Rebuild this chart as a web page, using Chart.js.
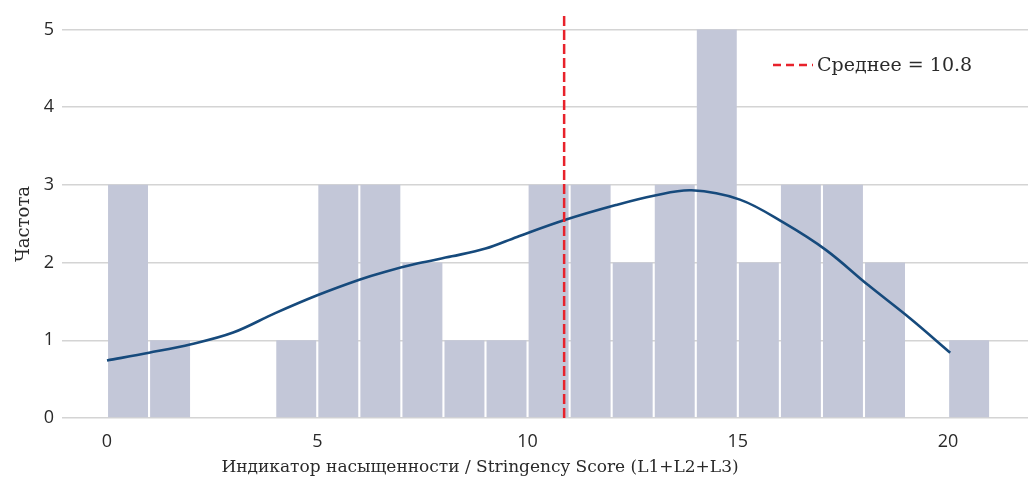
<!DOCTYPE html>
<html>
<head>
<meta charset="utf-8">
<script src="https://cdn.jsdelivr.net/npm/chart.js@4"></script>
<style>
  html, body { margin: 0; padding: 0; background: #fff; }
  #wrap { width: 1028px; height: 483px; }
</style>
</head>
<body>
<div id="wrap"><canvas id="histChart" width="1028" height="483"></canvas></div>
<script>
// histogram bins (left edges) and counts
const binStarts = [0, 1, 2, 3, 4, 5, 6, 7, 8, 9, 10, 11, 12, 13, 14, 15, 16, 17, 18, 19, 20];
const binCounts = [3, 1, 0, 0, 1, 3, 3, 2, 1, 1, 3, 3, 2, 3, 5, 2, 3, 3, 2, 0, 1];

// density curve
const kdeX = [0, 1, 2, 3, 4, 5, 6, 6.6, 7.4, 8.2, 9, 9.75, 10.9, 12.1, 13, 13.9, 15.05, 16.1, 17.1, 18.1, 19.1, 20.05];
const kdeY = [0.74, 0.84, 0.95, 1.10, 1.35, 1.58, 1.78, 1.88, 1.99, 2.08, 2.18, 2.33, 2.55, 2.74, 2.86, 2.93, 2.81, 2.51, 2.16, 1.71, 1.28, 0.84];

const meanValue = 10.87;
const meanLabel = 'Среднее = 10.8';

const xTicks = [0, 5, 10, 15, 20];
const yTicks = [0, 1, 2, 3, 4, 5];

const xTitle = 'Индикатор насыщенности / Stringency Score (L1+L2+L3)';
const yTitle = 'Частота';

const tickFont = { family: 'Open Sans', size: 18 };
const serif = 'DejaVu Serif';

// draws the axis titles and the mean legend
const labelsPlugin = {
    id: 'labelsPlugin',
    afterDraw(chart) {
        const ctx = chart.ctx;
        ctx.save();
        ctx.fillStyle = '#2a2a2a';
        ctx.font = '17px "' + serif + '"';
        ctx.textAlign = 'center';
        ctx.textBaseline = 'middle';
        ctx.fillText(xTitle, 480, 468);

        ctx.font = '18px "' + serif + '"';
        ctx.translate(24, 224);
        ctx.rotate(-Math.PI / 2);
        ctx.fillText(yTitle, 0, 0);
        ctx.restore();

        // legend
        ctx.save();
        ctx.strokeStyle = '#e8222b';
        ctx.lineWidth = 2.5;
        ctx.setLineDash([8, 5]);
        ctx.beginPath();
        ctx.moveTo(773, 65);
        ctx.lineTo(813, 65);
        ctx.stroke();
        ctx.fillStyle = '#2a2a2a';
        ctx.font = '19px "' + serif + '"';
        ctx.textAlign = 'left';
        ctx.textBaseline = 'middle';
        ctx.fillText(meanLabel, 817, 66);
        ctx.restore();
    }
};

const ctx = document.getElementById('histChart').getContext('2d');
const histChart = new Chart(ctx, {
    type: 'bar',
    data: {
        datasets: [
            {
                type: 'line',
                label: meanLabel,
                data: [{ x: meanValue, y: 0 }, { x: meanValue, y: 5.22 }],
                borderColor: '#e8222b',
                borderWidth: 2.5,
                borderDash: [10, 4],
                pointRadius: 0,
                fill: false,
                order: 0
            },
            {
                type: 'line',
                label: 'KDE',
                data: kdeX.map((x, i) => ({ x: x, y: kdeY[i] })),
                borderColor: '#164a7c',
                borderWidth: 2.6,
                pointRadius: 0,
                tension: 0.35,
                fill: false,
                order: 1
            },
            {
                label: 'Частота',
                data: binStarts.map((x, i) => ({ x: x + 0.5, y: binCounts[i] })),
                backgroundColor: '#c3c7d8',
                borderWidth: 0,
                barPercentage: 0.95,
                categoryPercentage: 1.0,
                order: 2
            }
        ]
    },
    options: {
        responsive: false,
        animation: false,
        layout: { padding: { top: 10, right: 0, left: 0, bottom: 0 } },
        plugins: {
            legend: { display: false },
            tooltip: { enabled: false }
        },
        scales: {
            x: {
                type: 'linear',
                offset: false,
                min: -1.07,
                max: 21.9,
                grid: { display: false, drawTicks: false, offset: false },
                border: { display: false },
                ticks: { font: tickFont, color: '#2a2a2a', padding: 13 },
                afterBuildTicks: (scale) => { scale.ticks = xTicks.map(v => ({ value: v })); },
                afterFit: (scale) => {
                    scale.height = 65;
                    scale.paddingLeft = 0;
                    scale.paddingRight = 0;
                }
            },
            y: {
                min: 0,
                max: 5.25,
                grid: { color: '#d4d4d4', lineWidth: 1.5, drawTicks: false },
                border: { display: false },
                ticks: { font: tickFont, color: '#2a2a2a', padding: 8 },
                afterBuildTicks: (scale) => { scale.ticks = yTicks.map(v => ({ value: v })); },
                afterFit: (scale) => {
                    scale.width = 62;
                    scale.paddingTop = 0;
                    scale.paddingBottom = 0;
                }
            }
        }
    },
    plugins: [labelsPlugin]
});
</script>
</body>
</html>
